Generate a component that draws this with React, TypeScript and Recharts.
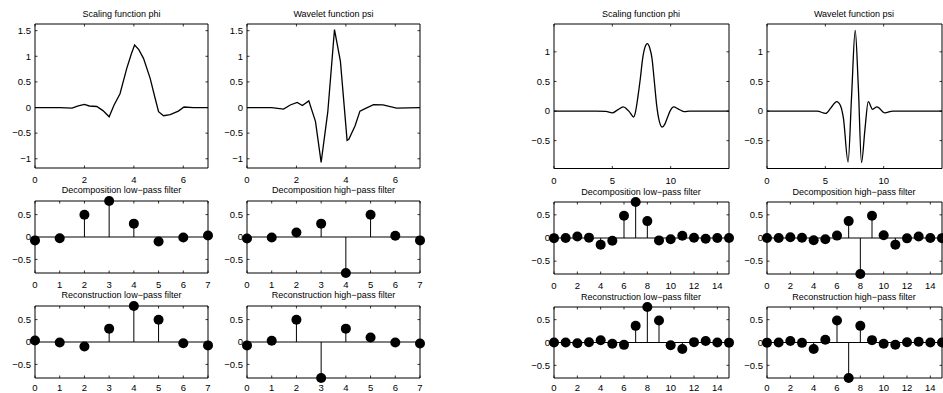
import React from 'react';
import { ComposedChart, Line, Scatter, ErrorBar, XAxis, YAxis, ReferenceArea, ReferenceLine } from 'recharts';

const FONT = '"Liberation Sans", Arial, Helvetica, sans-serif';

// ---------- left block (sym4) ----------
const sym4PhiT = [0, 1.0, 1.5, 1.75, 2.0, 2.2, 2.5, 2.75, 3.0, 3.2, 3.44, 3.71, 3.9, 4.03, 4.2, 4.39, 4.66, 4.85, 5.0, 5.2, 5.47, 5.8, 6.03, 6.4, 7.0];
const sym4PhiV = [0, 0, -0.01, 0.03, 0.06, 0.03, 0.02, -0.06, -0.18, 0.05, 0.27, 0.76, 1.05, 1.22, 1.13, 0.96, 0.57, 0.2, -0.08, -0.16, -0.14, -0.07, 0.01, 0, 0];
const sym4PsiT = [0, 1.0, 1.48, 1.75, 2.03, 2.24, 2.5, 2.77, 3.0, 3.27, 3.54, 3.78, 4.05, 4.12, 4.37, 4.57, 4.78, 5.12, 5.5, 6.05, 7.0];
const sym4PsiV = [0, 0, -0.03, 0.05, 0.1, 0.04, 0.13, -0.27, -1.07, -0.08, 1.52, 0.9, -0.64, -0.62, -0.36, -0.07, -0.02, 0.055, 0.05, -0.01, 0];

const sym4Index = [0, 1, 2, 3, 4, 5, 6, 7];
const sym4LoD = [-0.0758, -0.0296, 0.4976, 0.8037, 0.2979, -0.0992, -0.0126, 0.0322];
const sym4HiD = [-0.0322, -0.0126, 0.0992, 0.2979, -0.8037, 0.4976, 0.0296, -0.0758];
const sym4LoR = [0.0322, -0.0126, -0.0992, 0.2979, 0.8037, 0.4976, -0.0296, -0.0758];
const sym4HiR = [-0.0758, 0.0296, 0.4976, -0.8037, 0.2979, 0.0992, -0.0126, -0.0322];

// ---------- right block (sym8) ----------
const sym8PhiT = [0, 3.6, 4.45, 5.0, 5.45, 5.94, 6.2, 6.45, 6.83, 7.0, 7.17, 7.4, 7.6, 7.8, 8.0, 8.2, 8.4, 8.6, 8.8, 9.0, 9.27, 9.5, 9.7, 10.0, 10.24, 10.7, 11.19, 11.6, 15];
const sym8PhiV = [0, 0, -0.005, -0.03, 0.02, 0.07, 0.04, -0.01, -0.1, 0.0, 0.21, 0.55, 0.89, 1.08, 1.14, 1.07, 0.89, 0.5, 0.1, -0.15, -0.27, -0.22, -0.12, 0.02, 0.07, 0.03, -0.01, 0, 0];
const sym8PsiT = [0, 4.3, 5.03, 5.46, 5.98, 6.3, 6.55, 6.95, 7.25, 7.56, 7.83, 8.1, 8.4, 8.68, 9.05, 9.43, 10.1, 10.78, 15];
const sym8PsiV = [0, 0, -0.04, 0.05, 0.16, 0.09, -0.12, -0.86, 0.25, 1.36, 0.4, -0.87, -0.3, 0.16, 0.03, 0.07, -0.03, 0, 0];

const sym8Index = [0, 1, 2, 3, 4, 5, 6, 7, 8, 9, 10, 11, 12, 13, 14, 15];
const sym8LoD = [-0.0034, -0.0005, 0.0317, 0.0076, -0.1433, -0.0613, 0.4814, 0.7772, 0.3644, -0.0519, -0.0272, 0.0491, 0.0038, -0.015, -0.0003, 0.0019];
const sym8HiD = [-0.0019, -0.0003, 0.015, 0.0038, -0.0491, -0.0272, 0.0519, 0.3644, -0.7772, 0.4814, 0.0613, -0.1433, -0.0076, 0.0317, 0.0005, -0.0034];
const sym8LoR = [0.0019, -0.0003, -0.015, 0.0038, 0.0491, -0.0272, -0.0519, 0.3644, 0.7772, 0.4814, -0.0613, -0.1433, 0.0076, 0.0317, -0.0005, -0.0034];
const sym8HiR = [-0.0034, 0.0005, 0.0317, -0.0076, -0.1433, 0.0613, 0.4814, -0.7772, 0.3644, 0.0519, -0.0272, -0.0491, 0.0038, 0.015, -0.0003, -0.0019];

// ---------- ticks ----------
const leftFnXTicks = [0, 2, 4, 6];
const leftFnYTicks = [-1, -0.5, 0, 0.5, 1, 1.5];
const leftStemXTicks = [0, 1, 2, 3, 4, 5, 6, 7];
const rightFnXTicks = [0, 5, 10];
const rightFnYTicks = [-0.5, 0, 0.5, 1];
const rightStemXTicks = [0, 2, 4, 6, 8, 10, 12, 14];
const stemYTicks = [-0.5, 0, 0.5];

const titles = {
  phi: 'Scaling function phi',
  psi: 'Wavelet function psi',
  loD: 'Decomposition low\u2212pass filter',
  hiD: 'Decomposition high\u2212pass filter',
  loR: 'Reconstruction low\u2212pass filter',
  hiR: 'Reconstruction high\u2212pass filter',
};

const fmt = (v: number) => (v < 0 ? '\u2212' + String(-v) : String(v));

const curveRows = (t: number[], v: number[]) => t.map((x, i) => ({ x, y: v[i] }));
const stemRows = (idx: number[], v: number[]) =>
  idx.map((x, i) => ({ x, y: v[i], err: v[i] >= 0 ? [v[i], 0] : [0, -v[i]] }));

type Box = { x: number; y: number; w: number; h: number };

type PanelProps = {
  box: Box;
  title: string;
  titleY: number;
  xDomain: [number, number];
  yDomain: [number, number];
  xTicks: number[];
  yTicks: number[];
  rows: any[];
  kind: 'curve' | 'stem';
  smooth?: boolean;
  labelDy?: number;
};

function Panel({ box, title, titleY, xDomain, yDomain, xTicks, yTicks, rows, kind, smooth, labelDy = 14.5 }: PanelProps) {
  const LM = 36, RM = 12, TM = 10, BM = 24;
  const XTick = (props: any) => {
    const { x, y, payload } = props;
    return (
      <g>
        <line x1={x} x2={x} y1={y} y2={y - 2.5} stroke="#000" strokeWidth={0.8} />
        <line x1={x} x2={x} y1={y - box.h} y2={y - box.h + 2.5} stroke="#000" strokeWidth={0.8} />
        <text x={x} y={y + labelDy} textAnchor="middle" fontSize={9.5} fontFamily={FONT} fill="#000">
          {fmt(payload.value)}
        </text>
      </g>
    );
  };
  const YTick = (props: any) => {
    const { x, y, payload } = props;
    return (
      <g>
        <line x1={x} x2={x + 2.5} y1={y} y2={y} stroke="#000" strokeWidth={0.8} />
        <line x1={x + box.w} x2={x + box.w - 2.5} y1={y} y2={y} stroke="#000" strokeWidth={0.8} />
        <text x={x - 4} y={y} dy="0.35em" textAnchor="end" fontSize={9.5} fontFamily={FONT} fill="#000">
          {fmt(payload.value)}
        </text>
      </g>
    );
  };
  return (
    <>
      <div
        style={{
          position: 'absolute',
          left: box.x - 40,
          width: box.w + 80,
          top: titleY - 6,
          height: 12,
          lineHeight: '12px',
          textAlign: 'center',
          fontSize: 9,
          fontFamily: FONT,
          color: '#000',
          whiteSpace: 'nowrap',
        }}
      >
        {title}
      </div>
      <div style={{ position: 'absolute', left: box.x - LM, top: box.y - TM }}>
        <ComposedChart
          width={box.w + LM + RM}
          height={box.h + TM + BM}
          data={rows}
          margin={{ top: TM, right: RM, bottom: 0, left: 0 }}
        >
          <XAxis
            dataKey="x"
            type="number"
            domain={xDomain}
            ticks={xTicks}
            interval={0}
            height={BM}
            axisLine={false}
            tickLine={false}
            tickSize={0}
            tickMargin={0}
            tick={XTick}
          />
          <YAxis
            dataKey="y"
            type="number"
            domain={yDomain}
            ticks={yTicks}
            interval={0}
            width={LM}
            axisLine={false}
            tickLine={false}
            tickSize={0}
            tickMargin={0}
            tick={YTick}
          />
          <ReferenceArea
            x1={xDomain[0]}
            x2={xDomain[1]}
            y1={yDomain[0]}
            y2={yDomain[1]}
            fill="none"
            fillOpacity={0}
            stroke="#000"
            strokeWidth={1}
          />
          {kind === 'stem' && <ReferenceLine y={0} stroke="#000" strokeWidth={1} />}
          {kind === 'curve' && (
            <Line
              dataKey="y"
              type={smooth ? 'monotone' : 'linear'}
              stroke="#000"
              strokeWidth={1.3}
              dot={false}
              isAnimationActive={false}
            />
          )}
          {kind === 'stem' && (
            <Scatter
              data={rows}
              dataKey="y"
              isAnimationActive={false}
              shape={(p: any) => <circle cx={p.cx} cy={p.cy} r={5} fill="#000" />}
            >
              <ErrorBar dataKey="err" direction="y" width={0} stroke="#000" strokeWidth={1} isAnimationActive={false} />
            </Scatter>
          )}
        </ComposedChart>
      </div>
    </>
  );
}

const colA = { x: 35, w: 173 };
const colB = { x: 247, w: 173 };
const colC = { x: 553.5, w: 175 };
const colD = { x: 766.5, w: 175 };

export default function App() {
  const lStemY: [number, number] = [-0.8037, 0.8037];
  const rStemY: [number, number] = [-0.7772, 0.7772];
  const lFnY: [number, number] = [-1.18, 1.63];
  const rFnY: [number, number] = [-0.97, 1.47];
  return (
    <div
      style={{
        position: 'fixed',
        left: 0,
        top: 0,
        width: 943,
        height: 393,
        overflow: 'hidden',
        background: '#fff',
      }}
    >
      {/* left block */}
      <Panel box={{ ...colA, y: 24, h: 144 }} title={titles.phi} titleY={14} xDomain={[0, 7]} yDomain={lFnY}
        xTicks={leftFnXTicks} yTicks={leftFnYTicks} rows={curveRows(sym4PhiT, sym4PhiV)} kind="curve" labelDy={15} />
      <Panel box={{ ...colB, y: 24, h: 144 }} title={titles.psi} titleY={14} xDomain={[0, 7]} yDomain={lFnY}
        xTicks={leftFnXTicks} yTicks={leftFnYTicks} rows={curveRows(sym4PsiT, sym4PsiV)} kind="curve" labelDy={15} />
      <Panel box={{ ...colA, y: 200.5, h: 72 }} title={titles.loD} titleY={190} xDomain={[0, 7]} yDomain={lStemY}
        xTicks={leftStemXTicks} yTicks={stemYTicks} rows={stemRows(sym4Index, sym4LoD)} kind="stem" />
      <Panel box={{ ...colB, y: 200.5, h: 72 }} title={titles.hiD} titleY={190} xDomain={[0, 7]} yDomain={lStemY}
        xTicks={leftStemXTicks} yTicks={stemYTicks} rows={stemRows(sym4Index, sym4HiD)} kind="stem" />
      <Panel box={{ ...colA, y: 305.5, h: 72 }} title={titles.loR} titleY={295} xDomain={[0, 7]} yDomain={lStemY}
        xTicks={leftStemXTicks} yTicks={stemYTicks} rows={stemRows(sym4Index, sym4LoR)} kind="stem" labelDy={13} />
      <Panel box={{ ...colB, y: 305.5, h: 72 }} title={titles.hiR} titleY={295} xDomain={[0, 7]} yDomain={lStemY}
        xTicks={leftStemXTicks} yTicks={stemYTicks} rows={stemRows(sym4Index, sym4HiR)} kind="stem" labelDy={13} />

      {/* right block */}
      <Panel box={{ ...colC, y: 24, h: 144.5 }} title={titles.phi} titleY={13.5} xDomain={[0, 15]} yDomain={rFnY}
        xTicks={rightFnXTicks} yTicks={rightFnYTicks} rows={curveRows(sym8PhiT, sym8PhiV)} kind="curve" smooth labelDy={15} />
      <Panel box={{ ...colD, y: 24, h: 144.5 }} title={titles.psi} titleY={13.5} xDomain={[0, 15]} yDomain={rFnY}
        xTicks={rightFnXTicks} yTicks={rightFnYTicks} rows={curveRows(sym8PsiT, sym8PsiV)} kind="curve" smooth labelDy={15} />
      <Panel box={{ ...colC, y: 202, h: 72 }} title={titles.loD} titleY={191.5} xDomain={[0, 15]} yDomain={rStemY}
        xTicks={rightStemXTicks} yTicks={stemYTicks} rows={stemRows(sym8Index, sym8LoD)} kind="stem" />
      <Panel box={{ ...colD, y: 202, h: 72 }} title={titles.hiD} titleY={191.5} xDomain={[0, 15]} yDomain={rStemY}
        xTicks={rightStemXTicks} yTicks={stemYTicks} rows={stemRows(sym8Index, sym8HiD)} kind="stem" />
      <Panel box={{ ...colC, y: 307, h: 71 }} title={titles.loR} titleY={296.5} xDomain={[0, 15]} yDomain={rStemY}
        xTicks={rightStemXTicks} yTicks={stemYTicks} rows={stemRows(sym8Index, sym8LoR)} kind="stem" labelDy={12.5} />
      <Panel box={{ ...colD, y: 307, h: 71 }} title={titles.hiR} titleY={296.5} xDomain={[0, 15]} yDomain={rStemY}
        xTicks={rightStemXTicks} yTicks={stemYTicks} rows={stemRows(sym8Index, sym8HiR)} kind="stem" labelDy={12.5} />
    </div>
  );
}
